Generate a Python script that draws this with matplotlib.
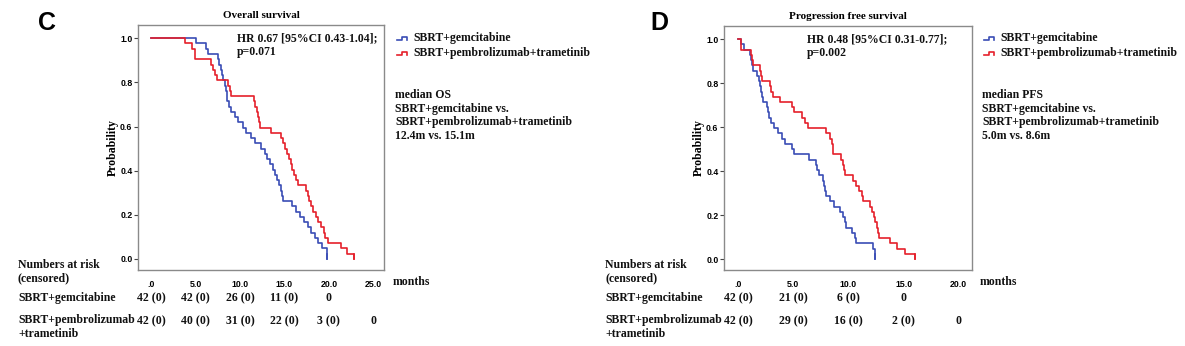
import matplotlib
matplotlib.use("Agg")
import matplotlib.pyplot as plt
import matplotlib.transforms as mtransforms
import numpy as np

N = 42
# ---- data (event times, months) ----
os_gem = [5.1, 6.2, 6.4, 7.5, 7.7, 7.9, 8.0, 8.1, 8.3, 8.4, 8.5, 8.6, 8.8, 9.0, 9.4, 9.8,
          10.3, 10.7, 11.2, 11.7, 12.4, 12.8, 13.1, 13.4, 13.7, 14.0, 14.2, 14.4, 14.6, 14.7, 14.8,
          15.8, 16.3, 16.8, 17.2, 17.6, 18.0, 18.4, 18.8, 19.2, 19.8, 19.8]
os_pem = [3.8, 4.6, 5.0, 5.0, 6.8, 7.0, 7.2, 7.4, 8.7, 8.9, 9.0,
          11.6, 11.7, 11.9, 12.0, 12.2, 12.3, 13.5, 14.6, 14.8,
          15.1, 15.3, 15.5, 15.7, 15.9, 16.1, 16.3, 16.5, 17.4, 17.6, 17.8, 18.0, 18.2,
          18.5, 18.8, 19.1, 19.4, 19.6, 19.9, 21.4, 22.0, 22.8]
pfs_gem = [0.3, 0.5, 1.1, 1.2, 1.3, 1.4, 1.7, 1.9, 2.0, 2.1, 2.2, 2.3, 2.6, 2.7, 2.8, 3.0,
           3.3, 3.6, 4.0, 4.3, 4.9,
           5.1, 6.4, 7.1, 7.2, 7.3, 7.7, 7.8, 7.9, 8.0, 8.3, 8.7, 9.2, 9.5, 9.7, 9.8,
           10.3, 10.6, 10.7, 12.2, 12.4, 12.4]
pfs_pem = [0.3, 0.3, 1.2, 1.3, 1.4, 2.0, 2.1, 2.2, 2.9, 3.0, 3.2, 3.8, 4.9,
           5.1, 5.8, 6.1, 6.3, 8.0, 8.3, 8.5, 8.6, 8.6, 9.3, 9.5, 9.6, 9.7,
           10.4, 10.7, 11.0, 11.2, 11.3, 12.0, 12.1, 12.3, 12.4, 12.6, 12.7, 12.8, 13.8, 14.4,
           15.1, 16.0]

os_ticks = [0, 5, 10, 15, 20, 25]
os_ticklabels = [".0", "5.0", "10.0", "15.0", "20.0", "25.0"]
pfs_ticks = [0, 5, 10, 15, 20]
pfs_ticklabels = [".0", "5.0", "10.0", "15.0", "20.0"]
y_ticks = [0.0, 0.2, 0.4, 0.6, 0.8, 1.0]
y_ticklabels = ["0.0", "0.2", "0.4", "0.6", "0.8", "1.0"]

os_risk_gem = ["42 (0)", "42 (0)", "26 (0)", "11 (0)", "0"]
os_risk_pem = ["42 (0)", "40 (0)", "31 (0)", "22 (0)", "3 (0)", "0"]
pfs_risk_gem = ["42 (0)", "21 (0)", "6 (0)", "0"]
pfs_risk_pem = ["42 (0)", "29 (0)", "16 (0)", "2 (0)", "0"]

group_labels = ["SBRT+gemcitabine", "SBRT+pembrolizumab+trametinib"]

BLUE = "#3a4db5"
RED = "#e5202b"
SERIF = "Liberation Serif"
SANS = "Liberation Sans"

fig = plt.figure(figsize=(11.85, 3.46), dpi=100)
ov = fig.add_axes([0, 0, 1, 1])
ov.set_xlim(0, 1185)
ov.set_ylim(346, 0)
ov.axis("off")
ov.set_zorder(10)
ov.patch.set_visible(False)


def km(times):
    t = [0.0] + list(times)
    s = [1.0] + [(N - i - 1) / N for i in range(len(times))]
    return t, s


def panel(rect, xlim, ticks, ticklabels, gem, pem, title):
    ax = fig.add_axes(rect)
    for ev, c in ((gem, BLUE), (pem, RED)):
        t, s = km(ev)
        ax.step(t, s, where="post", color=c, lw=1.2)
        ax.plot([t[-1], t[-1]], [s[-2], s[-1]], color=c, lw=1.2)
    ax.set_xlim(*xlim)
    ax.set_ylim(-0.05, 1.06)
    ax.set_xticks(ticks)
    ax.set_xticklabels(ticklabels, fontfamily=SANS, fontweight="bold", fontsize=6.3)
    ax.set_yticks(y_ticks)
    ax.set_yticklabels(y_ticklabels, fontfamily=SANS, fontweight="bold", fontsize=6.3)
    ax.tick_params(axis="x", length=0, pad=7)
    ax.tick_params(axis="y", length=3, width=0.8, pad=1, color="#444444")
    for sp in ax.spines.values():
        sp.set_color("#8a8a8a")
        sp.set_linewidth(1.0)
    ax.set_ylabel("Probability", fontfamily=SERIF, fontweight="bold", fontsize=8.5, labelpad=1)
    ax.set_title(title, fontfamily=SERIF, fontweight="bold", fontsize=8, pad=5)
    return ax


axC = panel([138 / 1185, 1 - 270 / 346, 246 / 1185, 245 / 346], (-1.46, 26.2),
            os_ticks, os_ticklabels, os_gem, os_pem, "Overall survival")
axD = panel([724 / 1185, 1 - 270 / 346, 248 / 1185, 244 / 346], (-1.27, 21.2),
            pfs_ticks, pfs_ticklabels, pfs_gem, pfs_pem, "Progression free survival")

tk = dict(fontfamily=SERIF, fontweight="bold", fontsize=8.5, color="#111111")

# panel letters
ov.text(38, 23, "C", fontfamily=SANS, fontweight="bold", fontsize=18, va="center", ha="left")
ov.text(650, 23, "D", fontfamily=SANS, fontweight="bold", fontsize=18, va="center", ha="left")

# HR text
ov.text(237, 45, "HR 0.67 [95%CI 0.43-1.04];\np=0.071", va="center", ha="left",
        linespacing=1.25, **tk)
ov.text(807, 46, "HR 0.48 [95%CI 0.31-0.77];\np=0.002", va="center", ha="left",
        linespacing=1.25, **tk)


def legend(x0, y0, median_lines):
    for i, (c, lab) in enumerate(zip((BLUE, RED), group_labels)):
        y = y0 + i * 15
        ov.plot([x0, x0 + 5, x0 + 5, x0 + 10, x0 + 10], [y + 1.5, y + 1.5, y - 1.5, y - 1.5, y + 1.5],
                color=c, lw=1.2)
        ov.text(x0 + 16, y, lab, va="center", ha="left", **tk)
    for j, line in enumerate(median_lines):
        ov.text(x0 - 2, y0 + 57 + j * 13.7, line, va="center", ha="left", **tk)


legend(397, 38, ["median OS", "SBRT+gemcitabine vs.", "SBRT+pembrolizumab+trametinib",
                 "12.4m vs. 15.1m"])
legend(984, 38, ["median PFS", "SBRT+gemcitabine vs.", "SBRT+pembrolizumab+trametinib",
                 "5.0m vs. 8.6m"])


def risk_table(ax, x_left, ticks, gem_vals, pem_vals, months_x):
    ov.text(x_left, 265, "Numbers at risk", va="center", ha="left", **tk)
    ov.text(x_left, 278, "(censored)", va="center", ha="left", **tk)
    ov.text(x_left, 298, group_labels[0], va="center", ha="left", **tk)
    ov.text(x_left, 320, "SBRT+pembrolizumab", va="center", ha="left", **tk)
    ov.text(x_left, 334, "+trametinib", va="center", ha="left", **tk)
    ov.text(months_x, 282, "months", va="center", ha="left", **tk)
    tr = mtransforms.blended_transform_factory(ax.transData, ov.transData)
    for xv, s in zip(ticks, gem_vals):
        ov.text(xv, 298, s, transform=tr, va="center", ha="center", **tk)
    for xv, s in zip(ticks, pem_vals):
        ov.text(xv, 321, s, transform=tr, va="center", ha="center", **tk)


risk_table(axC, 18, os_ticks, os_risk_gem, os_risk_pem, 393)
risk_table(axD, 605, pfs_ticks, pfs_risk_gem, pfs_risk_pem, 980)

fig.savefig("out.png", dpi=100)
